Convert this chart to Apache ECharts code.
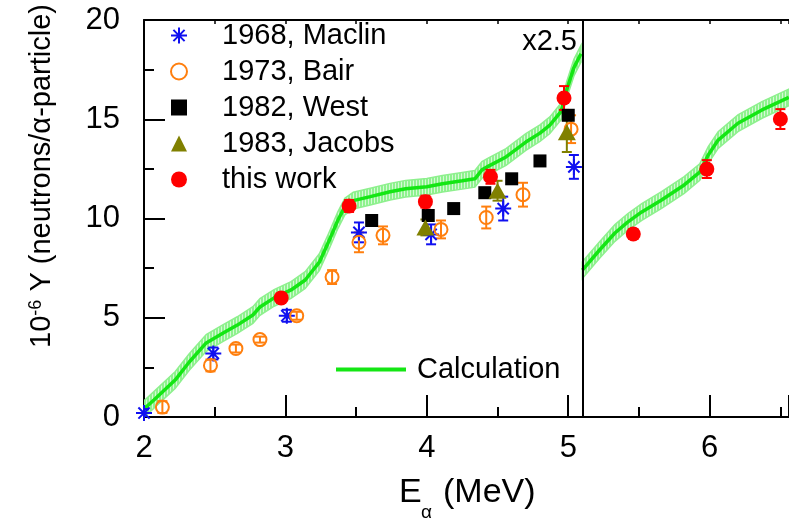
<!DOCTYPE html>
<html><head><meta charset="utf-8">
<script src="https://cdn.jsdelivr.net/npm/echarts@6/dist/echarts.min.js"></script>
<style>html,body{margin:0;padding:0;background:#fff}#c{width:789px;height:521px}</style>
</head><body><div id="c"></div>
<script>
// ---- data ----
const maclin    = [[2.0,0.2],[2.49,3.2],[3.01,5.1],[3.52,9.3],[4.03,9.2],[4.54,10.5],[5.04,12.6]];
const maclinErr = [0.2,0.3,0.3,0.5,0.5,0.6,0.6];
const bair      = [[2.13,0.5],[2.47,2.6],[2.65,3.45],[2.82,3.9],[3.08,5.1],[3.33,7.05],[3.52,8.8],[3.69,9.15],[4.10,9.45],[4.42,10.05],[4.68,11.2],[5.02,14.5]];
const bairErr   = [0.3,0.3,0.2,0.15,0.2,0.35,0.5,0.45,0.45,0.55,0.6,0.7];
const west      = [[3.61,9.9],[4.01,10.15],[4.19,10.5],[4.41,11.3],[4.60,12.0],[4.80,12.9],[5.00,15.2]];
const jacobs    = [[3.99,9.55],[4.50,11.4],[4.99,14.35]];
const jacobsErr = [0.4,0.5,1.0];
const thisWork  = [[2.97,6.0],[3.45,10.63],[3.99,10.85],[4.45,12.1],[4.97,16.07],[5.46,9.22],[5.98,12.49],[6.50,15.01]];
const thisErr   = [0.15,0.3,0.3,0.35,0.6,0.25,0.45,0.5];
const calcLeftX  = [2.0,2.07,2.22,2.32,2.44,2.56,2.66,2.77,2.82,2.92,3.04,3.14,3.24,3.31,3.37,3.42,3.48,3.60,3.74,3.85,4.0,4.11,4.25,4.34,4.39,4.44,4.56,4.70,4.80,4.87,4.95,4.99,5.04,5.09];
const calcLeftY  = [0.4,0.86,1.86,2.77,3.73,4.23,4.63,5.14,5.54,6.0,6.4,6.9,7.8,8.9,9.9,10.6,10.9,11.1,11.35,11.5,11.6,11.75,11.9,12.0,12.45,12.65,13.1,13.85,14.3,14.7,15.4,16.5,17.6,18.3];
const calcRightX = [5.10,5.22,5.33,5.42,5.52,5.66,5.82,5.93,5.99,6.06,6.20,6.37,6.56];
const calcRightY = [7.4,8.4,9.27,9.82,10.33,10.93,11.69,12.34,13.2,13.95,14.8,15.47,16.1];
const calcUnc = 0.42;
const scaleBreakX = 5.1;
const scaleNote = 'x2.5';
const seriesNames = ['1968, Maclin','1973, Bair','1982, West','1983, Jacobs','this work'];
const calcName = 'Calculation';

// ---- chart ----
const FONT = 'Liberation Sans, Arial, sans-serif';
const chart = echarts.init(document.getElementById('c'), null, {renderer:'canvas'});

const pat = document.createElement('canvas');
pat.width = 3; pat.height = 4;
(function(){const g = pat.getContext('2d'); g.fillStyle='#d4fad4'; g.fillRect(0,0,3,4); g.fillStyle='#8ef28e'; g.fillRect(0,0,2,4);})();

function errSeries(pts, errs, color) {
  return {
    type:'custom', silent:true, z:3, clip:true,
    encode:{x:0,y:1},
    data: pts.map((p,i)=>[p[0],p[1],errs[i]]),
    renderItem:(params, api)=>{
      const x=api.value(0), y=api.value(1), e=api.value(2);
      const t=api.coord([x,y+e]), b=api.coord([x,y-e]); const w=5;
      const st={stroke:color, lineWidth:2};
      return {type:'group', children:[
        {type:'line', shape:{x1:t[0],y1:t[1],x2:b[0],y2:b[1]}, style:st},
        {type:'line', shape:{x1:t[0]-w,y1:t[1],x2:t[0]+w,y2:t[1]}, style:st},
        {type:'line', shape:{x1:b[0]-w,y1:b[1],x2:b[0]+w,y2:b[1]}, style:st}
      ]};
    }
  };
}
function bandSeries(xs, ys) {
  return {
    type:'custom', silent:true, z:1, clip:true,
    encode:{x:0,y:1},
    data:[[xs[0], ys[0]]],
    renderItem:(params, api)=>{
      const up = xs.map((x,i)=>api.coord([x, ys[i]+calcUnc]));
      const lo = xs.map((x,i)=>api.coord([x, ys[i]-calcUnc])).reverse();
      return {type:'polygon', shape:{points: up.concat(lo)},
        style:{fill:{image:pat, repeat:'repeat'}, stroke:'#8ef08e', lineWidth:1.5}};
    }
  };
}

const asterisk = 'path://M8 0L8 16M0 8L16 8M2.4 2.4L13.6 13.6M2.4 13.6L13.6 2.4';

const option = {
  animation:false,
  backgroundColor:'#fff',
  grid:{left:144, top:20, width:645, bottom:104, containLabel:false},
  xAxis:[{
    type:'value', min:2, max:6.561, interval:1,
    axisLine:{onZero:false, lineStyle:{color:'#000', width:2}},
    axisTick:{inside:true, length:22, lineStyle:{color:'#000', width:2}},
    minorTick:{show:true, splitNumber:2, length:10, lineStyle:{color:'#000', width:2}},
    splitLine:{show:false},
    axisLabel:{color:'#000', fontFamily:FONT, fontSize:31, margin:16, showMaxLabel:false}
  },{
    type:'value', position:'top', min:2, max:6.561, interval:0.5,
    axisLine:{onZero:false, lineStyle:{color:'#000', width:2}},
    axisTick:{inside:true, length:4, lineStyle:{color:'#000', width:1.5}},
    axisLabel:{show:false}, splitLine:{show:false}
  }],
  yAxis:{
    type:'value', min:0, max:20, interval:5,
    axisLine:{show:true, onZero:false, lineStyle:{color:'#000', width:2}},
    axisTick:{inside:true, length:21, lineStyle:{color:'#000', width:2}},
    minorTick:{show:true, splitNumber:2, length:10, lineStyle:{color:'#000', width:2}},
    splitLine:{show:false},
    axisLabel:{color:'#000', fontFamily:FONT, fontSize:31, margin:24}
  },
  legend:[{
    data:seriesNames, orient:'vertical', left:170, top:21, padding:0, itemWidth:16, itemHeight:16, itemGap:7,
    textStyle:{color:'#000', fontFamily:FONT, fontSize:29, padding:[0,0,0,30]}, selectedMode:false
  },{
    data:[{name:calcName, icon:'rect'}], orient:'vertical', left:336, top:355, padding:0, itemWidth:70, itemHeight:4,
    itemStyle:{color:'#14e614'},
    textStyle:{color:'#000', fontFamily:FONT, fontSize:29, padding:[0,0,0,6]}, selectedMode:false
  }],
  graphic:[
    {type:'text', x:577, y:42, style:{text:scaleNote, font:'29px '+FONT, fill:'#000', align:'right', verticalAlign:'middle'}},
    {type:'text', x:399, y:493, style:{text:'E', font:'34px '+FONT, fill:'#000', align:'left', verticalAlign:'middle'}},
    {type:'text', x:421, y:513, style:{text:'α', font:'19px '+FONT, fill:'#000', align:'left', verticalAlign:'middle'}},
    {type:'text', x:443, y:493, style:{text:'(MeV)', font:'34px '+FONT, fill:'#000', align:'left', verticalAlign:'middle'}},
    {type:'text', x:42, y:176, rotation:Math.PI/2, style:{
      text:'{a|10}{s|-6}{a| Y (neutrons/α-particle)}', align:'center', verticalAlign:'middle', fill:'#000',
      rich:{a:{font:'29px '+FONT, fill:'#000'}, s:{font:'18px '+FONT, fill:'#000', verticalAlign:'top'}}
    }}
  ],
  series:[
    bandSeries(calcLeftX, calcLeftY),
    bandSeries(calcRightX, calcRightY),
    {type:'line', name:calcName, data:calcLeftX.map((x,i)=>[x,calcLeftY[i]]), symbol:'none', z:2,
     lineStyle:{color:'#14e614', width:3.5}, itemStyle:{color:'#14e614'}, silent:true},
    {type:'line', name:calcName, data:calcRightX.map((x,i)=>[x,calcRightY[i]]), symbol:'none', z:2,
     lineStyle:{color:'#14e614', width:3.5}, itemStyle:{color:'#14e614'}, silent:true,
     markLine:{silent:true, symbol:'none', label:{show:false}, lineStyle:{color:'#000', width:2, type:'solid'},
       data:[{xAxis:scaleBreakX}]}},
    errSeries(maclin, maclinErr, '#1010f0'),
    errSeries(bair, bairErr, '#ff7f0e'),
    errSeries(jacobs, jacobsErr, '#808000'),
    errSeries(thisWork, thisErr, '#ff0000'),
    {type:'scatter', name:seriesNames[0], data:maclin, symbol:asterisk, symbolSize:16, z:4,
     itemStyle:{color:'rgba(0,0,0,0)', borderColor:'#1010f0', borderWidth:2, opacity:1}},
    {type:'scatter', name:seriesNames[1], data:bair, symbol:'circle', symbolSize:13, z:4,
     itemStyle:{color:'rgba(0,0,0,0)', borderColor:'#ff7f0e', borderWidth:2, opacity:1}},
    {type:'scatter', name:seriesNames[2], data:west, symbol:'rect', symbolSize:13, z:4,
     itemStyle:{color:'#000', opacity:1}},
    {type:'scatter', name:seriesNames[3], data:jacobs, symbol:'triangle', symbolSize:[18,16], z:4,
     itemStyle:{color:'#808000', opacity:1}},
    {type:'scatter', name:seriesNames[4], data:thisWork, symbol:'circle', symbolSize:15, z:5,
     itemStyle:{color:'#ff0000', opacity:1}}
  ]
};
chart.setOption(option);
</script></body></html>
